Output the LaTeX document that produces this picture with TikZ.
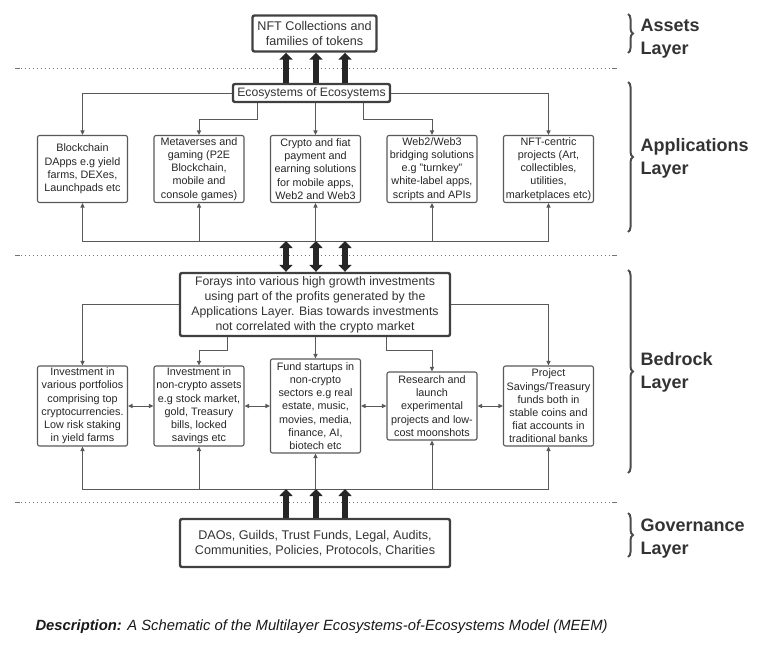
\documentclass[tikz,border=0pt]{standalone}
\usepackage{fontspec}
\setmainfont{Liberation Sans}
\usepackage{xcolor}
\usepackage{tikz}
\usetikzlibrary{positioning,calc,decorations.pathreplacing,arrows.meta}

\tikzset{
  bigbox/.style={draw=black!75, line width=2.4pt, rounded corners=2pt, fill=white, align=center, inner sep=0pt, text=black!80, font=\fontsize{12.6}{15.5}\selectfont},
  smallbox/.style={draw=black!65, line width=1.1pt, rounded corners=2pt, fill=white, align=center, inner sep=0pt, minimum width=90pt, text=black!85, font=\fontsize{10.8}{13.2}\selectfont},
  link/.style={draw=black!65, line width=1pt, -{Triangle[length=4.5pt,width=4pt]}},
  twoway/.style={draw=black!65, line width=1pt, {Triangle[length=4.5pt,width=4pt]}-{Triangle[length=4.5pt,width=4pt]}},
  fatarrow/.style={draw=black!85, line width=6.5pt, -{Triangle[length=7pt,width=13pt]}},
  fatboth/.style={draw=black!85, line width=6.5pt, {Triangle[length=7pt,width=13pt]}-{Triangle[length=7pt,width=13pt]}},
  sepline/.style={draw=black!55, line width=1pt, dash pattern=on 1pt off 3pt},
  layerbrace/.style={decorate, decoration={brace, amplitude=5pt}, draw=black!70, line width=2pt},
  layername/.style={anchor=west, align=left, text=black!80, font=\fontsize{18}{23}\selectfont\bfseries},
}

\begin{document}
\begin{tikzpicture}[x=1pt,y=-1pt]
	\useasboundingbox (0,0) rectangle (774,670);
	
	% separators between the layers
	\foreach \y in {68,255,502} {
		\draw[sepline] (21,\y) -- (611,\y);
		\draw[draw=black!55, line width=1pt] (15,\y) -- (20,\y) (612,\y) -- (617,\y);
	}
	
	% assets layer
	\node[bigbox, minimum width=124pt, minimum height=36pt] (nft) at (314.5,33.5) {NFT Collections and\\families of tokens};
	
	% applications layer
	\node[bigbox, minimum width=157pt, minimum height=18pt, font=\fontsize{12.2}{15}\selectfont] (eco) at (311.5,93) {Ecosystems of Ecosystems};
	\node[smallbox, minimum height=67pt] (app1) at (82.5,169)  {Blockchain\\DApps e.g yield\\farms, DEXes,\\Launchpads etc};
	\node[smallbox, minimum height=67pt] (app2) at (199,169)   {Metaverses and\\gaming (P2E\\Blockchain,\\mobile and\\console games)};
	\node[smallbox, minimum height=67pt] (app3) at (315.5,169) {Crypto and fiat\\payment and\\earning solutions\\for mobile apps,\\Web2 and Web3};
	\node[smallbox, minimum height=67pt] (app4) at (432,169)   {Web2/Web3\\bridging solutions\\e.g "turnkey"\\white-label apps,\\scripts and APIs};
	\node[smallbox, minimum height=67pt] (app5) at (548.5,169) {NFT-centric\\projects (Art,\\collectibles,\\utilities,\\marketplaces etc)};
	
	% bedrock layer
	\node[bigbox, minimum width=270pt, minimum height=63pt, font=\fontsize{12.3}{15}\selectfont] (forays) at (315,304.5) {Forays into various high growth investments\\using part of the profits generated by the\\Applications Layer. Bias towards investments\\not correlated with the crypto market};
	\node[smallbox, minimum height=80pt] (bed1) at (82.5,406)  {Investment in\\various portfolios\\comprising top\\cryptocurrencies.\\Low risk staking\\in yield farms};
	\node[smallbox, minimum height=80pt] (bed2) at (199,406)   {Investment in\\non-crypto assets\\e.g stock market,\\gold, Treasury\\bills, locked\\savings etc};
	\node[smallbox, minimum height=94pt] (bed3) at (315.5,406) {Fund startups in\\non-crypto\\sectors e.g real\\estate, music,\\movies, media,\\finance, AI,\\biotech etc};
	\node[smallbox, minimum height=68pt] (bed4) at (432,406)   {Research and\\launch\\experimental\\projects and low-\\cost moonshots};
	\node[smallbox, minimum height=80pt] (bed5) at (548.5,406) {Project\\Savings/Treasury\\funds both in\\stable coins and\\fiat accounts in\\traditional banks};
	
	% governance layer
	\node[bigbox, minimum width=270pt, minimum height=48pt] (gov) at (315,543) {DAOs, Guilds, Trust Funds, Legal, Audits,\\Communities, Policies, Protocols, Charities};
	
	% fat arrows and the two buses
	\coordinate (c1) at (286,0);
	\coordinate (c2) at (316,0);
	\coordinate (c3) at (345,0);
	\coordinate (abus) at (0,241);
	\coordinate (bbus) at (0,489);
	
	% ecosystems -> applications
	\draw[link] (eco.west) -| (app1.north);
	\draw[link] ([xshift=26pt]eco.south west) -- ++(0,16) -| (app2.north);
	\draw[link] (app3.north |- eco.south) -- (app3.north);
	\draw[link] ([xshift=-28pt]eco.south east) -- ++(0,16) -| (app4.north);
	\draw[link] (eco.east) -| (app5.north);
	
	\draw[link] (app3.south |- abus) -| (app1.south);
	\draw[link] (app3.south |- abus) -| (app5.south);
	\foreach \b in {app2,app3,app4} { \draw[link] (\b.south |- abus) -- (\b.south); }
	
	% forays -> bedrock boxes
	\draw[link] (forays.west) -| (bed1.north);
	\draw[link] ([xshift=49pt]forays.south west) -- ++(0,13) -| (bed2.north);
	\draw[link] (bed3.north |- forays.south) -- (bed3.north);
	\draw[link] ([xshift=-65pt]forays.south east) -- ++(0,13) -| (bed4.north);
	\draw[link] (forays.east) -| (bed5.north);
	
	\draw[twoway] (bed1.east) -- (bed2.west);
	\draw[twoway] (bed2.east) -- (bed3.west);
	\draw[twoway] (bed3.east) -- (bed4.west);
	\draw[twoway] (bed4.east) -- (bed5.west);
	
	\draw[link] (bed3.south |- bbus) -| (bed1.south);
	\draw[link] (bed3.south |- bbus) -| (bed5.south);
	\foreach \b in {bed2,bed3,bed4} { \draw[link] (\b.south |- bbus) -- (\b.south); }
	
	\foreach \c in {c1,c2,c3} {
		\draw[fatarrow] (\c |- eco.north) -- (\c |- nft.south);
		\draw[fatboth] (\c |- abus) -- (\c |- forays.north);
		\draw[fatarrow] (\c |- gov.north) -- (\c |- bbus);
	}
	
	% layer names
	\draw[layerbrace] (628,14) -- (628,53);
	\node[layername] (assets) at (637,38.5) {Assets\\Layer};
	\draw[layerbrace] (628,82) -- (628,232);
	\node[layername] (apps) at (637,158) {Applications\\Layer};
	\draw[layerbrace] (628,270) -- (628,473);
	\node[layername] (bedrock) at (637,372) {Bedrock\\Layer};
	\draw[layerbrace] (628,513) -- (628,557);
	\node[layername] (governance) at (637,539) {Governance\\Layer};
	
	% caption
	\node[anchor=west, text=black!90, font=\fontsize{14.8}{17}\selectfont\itshape] (caption) at (32,627) {\textbf{Description:} A Schematic of the Multilayer Ecosystems-of-Ecosystems Model (MEEM)};
\end{tikzpicture}
\end{document}
